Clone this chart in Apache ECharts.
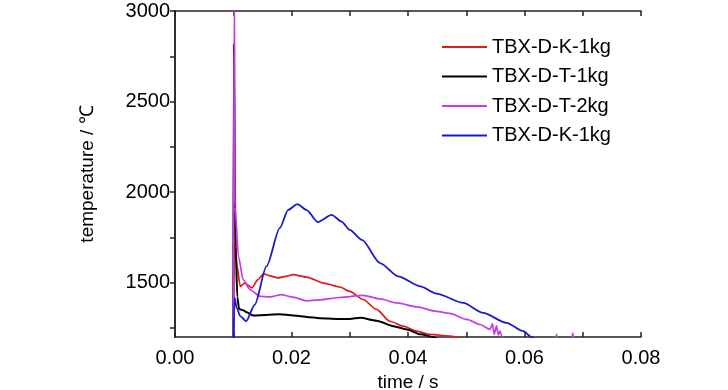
<!DOCTYPE html>
<html>
<head>
<meta charset="utf-8">
<script src="https://cdn.jsdelivr.net/npm/echarts@6/dist/echarts.min.js"></script>
<style>html,body{margin:0;padding:0;background:#fff}#c{width:728px;height:390px}</style>
</head>
<body>
<div id="c"></div>
<script>
// ---- data ----
const seriesNames = ['TBX-D-K-1kg', 'TBX-D-T-1kg', 'TBX-D-T-2kg', 'TBX-D-K-1kg '];
const xTickLabels = ['0.00', '0.02', '0.04', '0.06', '0.08'];
const yTickValues = [1500, 2000, 2500, 3000];

const redT = [0.0100, 0.0102, 0.0106, 0.0112, 0.0120, 0.0132, 0.0142, 0.0152, 0.0163, 0.0177, 0.0190, 0.0203, 0.0226, 0.0255, 0.0283, 0.0300, 0.0323, 0.0346, 0.0369, 0.0392, 0.0415, 0.0438, 0.0472, 0.0490];
const redV = [1100, 1950, 1600, 1480, 1498, 1471, 1515, 1549, 1538, 1526, 1535, 1544, 1531, 1498, 1476, 1452, 1407, 1352, 1287, 1260, 1232, 1214, 1205, 1195];

const blackT = [0.0100, 0.0101, 0.0104, 0.0107, 0.0110, 0.0117, 0.0123, 0.0134, 0.0157, 0.0180, 0.0203, 0.0215, 0.0226, 0.0249, 0.0278, 0.0300, 0.0318, 0.0346, 0.0375, 0.0398, 0.0421, 0.0443, 0.0450];
const blackV = [1100, 2820, 1700, 1420, 1355, 1348, 1337, 1319, 1322, 1326, 1319, 1315, 1311, 1304, 1300, 1300, 1306, 1290, 1260, 1242, 1215, 1200, 1190];

const magT = [0.0100, 0.0102, 0.0103, 0.0109, 0.0117, 0.0129, 0.0146, 0.0163, 0.0183, 0.0200, 0.0226, 0.0249, 0.0283, 0.0323, 0.0352, 0.0381, 0.0415, 0.0449, 0.0472, 0.0501, 0.0524, 0.0541, 0.0545, 0.0548, 0.0552, 0.0555, 0.0558, 0.0561, 0.0564, 0.0654, 0.0655, 0.0656, 0.0682, 0.0683, 0.0684, 0.0700];
const magV = [1100, 3200, 1920, 1644, 1516, 1461, 1425, 1421, 1434, 1421, 1400, 1405, 1418, 1430, 1410, 1388, 1366, 1342, 1330, 1297, 1269, 1242, 1272, 1215, 1262, 1212, 1232, 1205, 1150, 1190, 1215, 1190, 1190, 1222, 1190, 1150];

const blueT = [0.0100, 0.0102, 0.0106, 0.0112, 0.0122, 0.0137, 0.0157, 0.0180, 0.0194, 0.0210, 0.0226, 0.0245, 0.0269, 0.0286, 0.0300, 0.0321, 0.0352, 0.0383, 0.0421, 0.0449, 0.0495, 0.0529, 0.0569, 0.0598, 0.0612, 0.0620];
const blueV = [1000, 1418, 1360, 1315, 1287, 1379, 1590, 1802, 1901, 1934, 1901, 1835, 1874, 1837, 1791, 1736, 1608, 1535, 1480, 1440, 1388, 1333, 1278, 1232, 1200, 1180];

const colors = ['#e0191c', '#000000', '#c83ce6', '#1a1acd'];

function zip(t, v) { return t.map((x, i) => [x, v[i]]); }

const FONT = "'Liberation Sans', Arial, sans-serif";
const axisCol = '#222';

const chart = echarts.init(document.getElementById('c'), null, { renderer: 'canvas' });
const lineW = [1.7, 2, 1.7, 1.8];
const dataSets = [zip(redT, redV), zip(blackT, blackV), zip(magT, magV), zip(blueT, blueV)];

chart.setOption({
  animation: false,
  backgroundColor: '#fff',
  grid: { left: 175, right: 87, top: 11, bottom: 53, containLabel: false, outerBoundsMode: 'none' },
  legend: {
    orient: 'vertical', left: 437, top: 30,
    itemWidth: 45, itemHeight: 2, itemGap: 5.5, icon: 'rect',
    data: seriesNames,
    formatter: n => n.trim(),
    textStyle: { fontFamily: FONT, fontSize: 20, color: '#000', lineHeight: 24 }
  },
  xAxis: [
    {
      type: 'value', position: 'bottom', min: 0, max: 0.08, interval: 0.02,
      name: 'time / s', nameLocation: 'middle', nameGap: 34,
      nameTextStyle: { fontFamily: FONT, fontSize: 19, color: '#000' },
      axisLine: { show: true, lineStyle: { color: axisCol, width: 1.5 } },
      axisTick: { show: true, inside: true, length: 5, lineStyle: { color: axisCol, width: 1.5 } },
      minorTick: { show: true, splitNumber: 2, length: 5, lineStyle: { color: axisCol, width: 1.5 } },
      splitLine: { show: false },
      axisLabel: { fontFamily: FONT, fontSize: 20, color: '#000', margin: 11,
        formatter: v => xTickLabels[Math.round(v / 0.02)] }
    },
    {
      type: 'value', position: 'top', min: 0, max: 0.08, interval: 0.02,
      axisLine: { show: true, lineStyle: { color: axisCol, width: 1.5 } },
      axisTick: { show: true, inside: true, length: 5, lineStyle: { color: axisCol, width: 1.5 } },
      minorTick: { show: true, splitNumber: 2, length: 5, lineStyle: { color: axisCol, width: 1.5 } },
      splitLine: { show: false }, axisLabel: { show: false }
    }
  ],
  yAxis: [
    {
      type: 'value', position: 'left', min: 1200, max: 3000,
      name: 'temperature / ℃', nameLocation: 'middle', nameRotate: 90, nameGap: 78,
      nameTextStyle: { fontFamily: FONT, fontSize: 19, color: '#000' },
      axisLine: { show: true, lineStyle: { color: axisCol, width: 1.5 } },
      axisTick: { show: true, inside: false, length: 5, customValues: yTickValues, lineStyle: { color: axisCol, width: 1.5 } },
      axisLabel: { customValues: yTickValues, formatter: v => String(v), fontFamily: FONT, fontSize: 20, color: '#000', margin: 5 },
      splitLine: { show: false }
    },
    {
      type: 'value', position: 'right', min: 1200, max: 3000,
      axisLine: { show: true, lineStyle: { color: axisCol, width: 1.5 } },
      axisTick: { show: true, inside: true, length: 5, customValues: [1250, 1500, 1750, 2000, 2250, 2500, 2750, 3000], lineStyle: { color: axisCol, width: 1.5 } },
      axisLabel: { show: false }, splitLine: { show: false }
    },
    {
      type: 'value', position: 'left', min: 1200, max: 3000, offset: 0,
      axisLine: { show: false },
      axisTick: { show: true, inside: false, length: 3, customValues: [1250, 1750, 2250, 2750], lineStyle: { color: axisCol, width: 1.5 } },
      axisLabel: { show: false }, splitLine: { show: false }
    }
  ],
  series: seriesNames.map((n, i) => ({
    name: n, type: 'line', xAxisIndex: 0, yAxisIndex: 0,
    data: dataSets[i], showSymbol: false, symbol: 'none', clip: true,
    smooth: 0.25, smoothMonotone: 'x',
    color: colors[i],
    lineStyle: { color: colors[i], width: lineW[i] },
    z: 2 + i
  }))
});
</script>
</body>
</html>
